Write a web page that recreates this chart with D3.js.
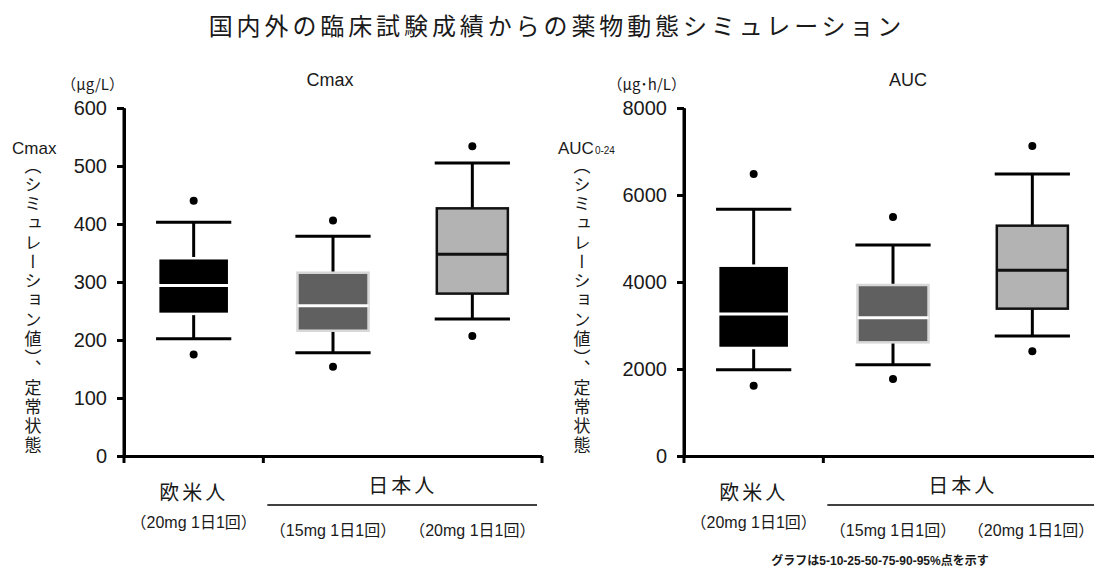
<!DOCTYPE html>
<html><head><meta charset="utf-8">
<script src="https://cdn.jsdelivr.net/npm/d3@7"></script>
<style>
body{margin:0;background:#fff}
text{fill:#1a1a1a}
.lat{font-family:"Liberation Sans","Noto Sans CJK JP",sans-serif}
.jp{font-family:"Noto Sans CJK JP",sans-serif}
</style></head><body>
<svg id="c" width="1094" height="570"></svg>
<script>
// ---- data ----
const groups = ["欧米人 20mg", "日本人 15mg", "日本人 20mg"];
const populations = ["欧米人", "日本人"];
const doses = ["（20mg 1日1回）", "（15mg 1日1回）", "（20mg 1日1回）"];

const cmaxTicks = [0, 100, 200, 300, 400, 500, 600];
const cmaxP5  = [175, 154, 207];
const cmaxP10 = [202, 178, 236];
const cmaxP25 = [245, 216, 280];
const cmaxP50 = [294, 259, 348];
const cmaxP75 = [341, 316, 427];
const cmaxP90 = [403, 379, 505];
const cmaxP95 = [440, 406, 534];

const aucTicks = [0, 2000, 4000, 6000, 8000];
const aucP5  = [1617, 1770, 2406];
const aucP10 = [1985, 2100, 2759];
const aucP25 = [2483, 2613, 3387];
const aucP50 = [3264, 3180, 4268];
const aucP75 = [4375, 3931, 5295];
const aucP90 = [5670, 4851, 6483];
const aucP95 = [6483, 5494, 7126];

// ---- styles ----
const fills   = ["#000000", "#606060", "#b3b3b3"];
const borders = ["#ffffff", "#d8d8d8", "#111111"];
const medians = ["#ffffff", "#ffffff", "#111111"];

const svg = d3.select("#c");

svg.append("text").attr("class","jp").attr("x", 557).attr("y", 35)
  .attr("text-anchor","middle").attr("font-size", 24).attr("letter-spacing", 3.9)
  .text("国内外の臨床試験成績からの薬物動態シミュレーション");

function panel(o) {
  const g = svg.append("g");
  const y = d3.scaleLinear().domain([0, o.ticks[o.ticks.length-1]]).range([456, 108]);
  const x = d3.scaleBand().domain(groups).range([o.x0, o.x0 + 418]);
  const bw = x.bandwidth();
  const boxW = bw * 0.51, capW = bw * 0.54;

  // y axis
  const ya = g.append("g").attr("transform", `translate(${o.x0},0)`)
    .call(d3.axisLeft(y).tickValues(o.ticks).tickFormat(d3.format("d")).tickSize(7).tickSizeOuter(0).tickPadding(10));
  ya.select(".domain").attr("stroke","#000").attr("stroke-width",3);
  ya.selectAll(".tick line").attr("stroke","#000").attr("stroke-width",3);
  ya.selectAll(".tick text").attr("class","lat").attr("font-size",20).attr("fill","#1a1a1a");
  g.append("line").attr("x1",o.x0).attr("x2",o.x0).attr("y1",y.range()[1]).attr("y2",458)
    .attr("stroke","#000").attr("stroke-width",3);

  // x axis
  g.append("line").attr("x1", o.x0 - 4).attr("x2", o.x0 + 418).attr("y1", 456.5).attr("y2", 456.5)
    .attr("stroke","#000").attr("stroke-width",3);
  const xt = [x.range()[0], x(groups[1]), x.range()[1]];
  g.selectAll(".xt").data(xt).join("line")
    .attr("x1", d => d).attr("x2", d => d).attr("y1", 456).attr("y2", 463)
    .attr("stroke","#000").attr("stroke-width",3);

  const rows = groups.map((k, i) => ({k, i, p5:o.p5[i], p10:o.p10[i], p25:o.p25[i], p50:o.p50[i], p75:o.p75[i], p90:o.p90[i], p95:o.p95[i]}));
  const cx = d => x(d.k) + bw/2;
  const bg = g.selectAll(".bx").data(rows).join("g");
  // whiskers
  bg.append("line").attr("x1",cx).attr("x2",cx).attr("y1",d=>y(d.p90)).attr("y2",d=>y(d.p75))
    .attr("stroke","#000").attr("stroke-width",3);
  bg.append("line").attr("x1",cx).attr("x2",cx).attr("y1",d=>y(d.p10)).attr("y2",d=>y(d.p25))
    .attr("stroke","#000").attr("stroke-width",3);
  bg.append("line").attr("x1",d=>cx(d)-capW/2).attr("x2",d=>cx(d)+capW/2).attr("y1",d=>y(d.p90)).attr("y2",d=>y(d.p90))
    .attr("stroke","#000").attr("stroke-width",3);
  bg.append("line").attr("x1",d=>cx(d)-capW/2).attr("x2",d=>cx(d)+capW/2).attr("y1",d=>y(d.p10)).attr("y2",d=>y(d.p10))
    .attr("stroke","#000").attr("stroke-width",3);
  // box
  bg.append("rect").attr("x",d=>cx(d)-boxW/2).attr("width",boxW)
    .attr("y",d=>y(d.p75)).attr("height",d=>y(d.p25)-y(d.p75))
    .attr("fill",d=>fills[d.i]).attr("stroke",d=>borders[d.i]).attr("stroke-width",2.5);
  bg.append("line").attr("x1",d=>cx(d)-boxW/2).attr("x2",d=>cx(d)+boxW/2).attr("y1",d=>y(d.p50)).attr("y2",d=>y(d.p50))
    .attr("stroke",d=>medians[d.i]).attr("stroke-width",3);
  // dots
  bg.append("circle").attr("cx",cx).attr("cy",d=>y(d.p95)).attr("r",4).attr("fill","#000");
  bg.append("circle").attr("cx",cx).attr("cy",d=>y(d.p5)).attr("r",4).attr("fill","#000");

  // titles
  g.append("text").attr("class","lat").attr("x", o.titleX).attr("y", 86).attr("text-anchor","middle")
    .attr("font-size",18).text(o.title);
  g.append("text").attr("class","jp").attr("x", o.unitX).attr("y", 90).attr("text-anchor","end")
    .attr("font-size",15).text(o.unit);

  // y label
  const yl = g.append("text").attr("class","lat").attr("x", o.labX).attr("y", 154).attr("font-size",17);
  yl.append("tspan").text(o.lab);
  if (o.labSub) yl.append("tspan").attr("font-size",10).attr("dx",1).text(o.labSub);
  g.append("text").attr("class","jp").attr("x", o.vX).attr("y", 157)
    .attr("font-size",17).attr("letter-spacing",2.2)
    .style("writing-mode","vertical-rl")
    .text("（シミュレーション値）、定常状態");

  // category labels
  g.append("text").attr("class","jp").attr("x", cx(rows[0])).attr("y", 500).attr("text-anchor","middle")
    .attr("font-size",20).attr("letter-spacing",3).text(populations[0]);
  const jx = (cx(rows[1]) + cx(rows[2]))/2;
  g.append("text").attr("class","jp").attr("x", jx).attr("y", 493).attr("text-anchor","middle")
    .attr("font-size",20).attr("letter-spacing",3).text(populations[1]);
  g.append("line").attr("x1", x(groups[1]) + 4).attr("x2", Math.min(x.range()[1] - 5, 1094))
    .attr("y1", 505).attr("y2", 505).attr("stroke","#000").attr("stroke-width",1.5);
  g.selectAll(".dose").data(rows).join("text").attr("class","lat")
    .attr("x", d => Math.min(cx(d), 1034 - (o.x0 > 600 ? 3 : 0))).attr("y", d => d.i == 0 ? 528 : 536).attr("text-anchor","middle")
    .attr("font-size",16).text(d => doses[d.i]);
}

panel({x0:124, ticks:cmaxTicks, p5:cmaxP5, p10:cmaxP10, p25:cmaxP25, p50:cmaxP50, p75:cmaxP75, p90:cmaxP90, p95:cmaxP95,
  title:"Cmax", titleX:330, unit:"（μg/L）", unitX:124, lab:"Cmax", labX:12, vX:33});
panel({x0:684, ticks:aucTicks, p5:aucP5, p10:aucP10, p25:aucP25, p50:aucP50, p75:aucP75, p90:aucP90, p95:aucP95,
  title:"AUC", titleX:908, unit:"（μg･h/L）", unitX:686, lab:"AUC", labSub:"0-24", labX:558, vX:582});

svg.append("text").attr("class","lat").attr("x", 880).attr("y", 565).attr("text-anchor","middle")
  .attr("font-size",12).attr("font-weight","bold").text("グラフは5-10-25-50-75-90-95%点を示す");
</script></body></html>
